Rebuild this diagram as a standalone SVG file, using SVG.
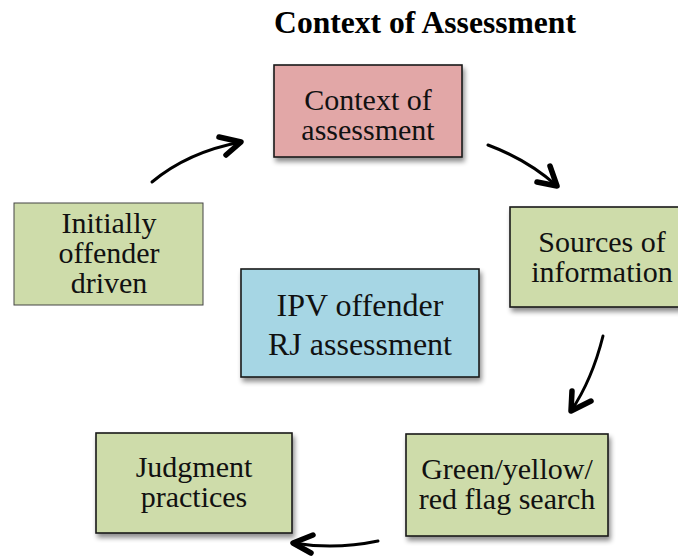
<svg xmlns="http://www.w3.org/2000/svg" width="678" height="556" viewBox="0 0 678 556">
  <style>
    .box { stroke: #1a1a1a; stroke-width: 1.6; }
    .lbl { font-size: 30px; fill: #111; text-anchor: middle; }
    .big { font-size: 32px; }
    .title { font-size: 31.6px; font-weight: bold; fill: #000; text-anchor: middle; }
    .arc { fill: none; stroke: #000; stroke-width: 3; stroke-linecap: round; }
    .head { fill: none; stroke: #000; stroke-width: 5.5; stroke-linecap: round; stroke-linejoin: round; }
  </style>
  <defs>
    <filter id="shadow" x="-10%" y="-10%" width="125%" height="130%">
      <feGaussianBlur in="SourceAlpha" stdDeviation="2.5"/>
      <feOffset dx="2" dy="4" result="b"/>
      <feComponentTransfer><feFuncA type="linear" slope="0.45"/></feComponentTransfer>
      <feMerge><feMergeNode/><feMergeNode in="SourceGraphic"/></feMerge>
    </filter>
  </defs>

  <rect width="678" height="556" fill="#fff"/>

  <g font-family="Liberation Serif, Times New Roman, serif">
    <text class="title" x="425" y="33">Context of Assessment</text>

    <g id="context">
      <rect class="box" x="274" y="65" width="188" height="92" fill="#E2A7A7" filter="url(#shadow)"/>
      <text class="lbl" x="368" y="110">Context of</text>
      <text class="lbl" x="368" y="140">assessment</text>
    </g>

    <g id="sources">
      <rect class="box" x="510" y="207" width="180" height="100" fill="#CEDCAA" filter="url(#shadow)"/>
      <text class="lbl" x="602" y="252">Sources of</text>
      <text class="lbl" x="602" y="282">information</text>
    </g>

    <g id="initially">
      <rect x="14" y="203" width="189" height="102" fill="#CEDCAA" stroke="#444" stroke-width="1"/>
      <text class="lbl" x="109" y="233">Initially</text>
      <text class="lbl" x="109" y="263">offender</text>
      <text class="lbl" x="109" y="293">driven</text>
    </g>

    <g id="ipv">
      <rect class="box" x="241" y="269" width="238" height="108" fill="#A6D6E4" filter="url(#shadow)"/>
      <text class="lbl big" x="360" y="316">IPV offender</text>
      <text class="lbl big" x="360" y="355">RJ assessment</text>
    </g>

    <g id="judgment">
      <rect class="box" x="96" y="433" width="196" height="100" fill="#CEDCAA" filter="url(#shadow)"/>
      <text class="lbl" x="194" y="477">Judgment</text>
      <text class="lbl" x="194" y="507">practices</text>
    </g>

    <g id="flags">
      <rect class="box" x="406" y="434" width="202" height="102" fill="#CEDCAA" filter="url(#shadow)"/>
      <text class="lbl" x="507" y="479">Green/yellow/</text>
      <text class="lbl" x="507" y="509">red flag search</text>
    </g>
  </g>

  <g id="connectors">
    <path class="arc" d="M152,182 Q188,152 241,142"/>
    <path class="head" d="M219,137 L241,142 L226,155"/>

    <path class="arc" d="M488,145 Q528,160 557,186"/>
    <path class="head" d="M550,166 L557,186 L537,182"/>

    <path class="arc" d="M603,336 Q592,380 571,411"/>
    <path class="head" d="M572,391 L571,411 L591,401"/>

    <path class="arc" d="M378,541 Q335,550 293,543"/>
    <path class="head" d="M313,535 L293,543 L311,553"/>
  </g>
</svg>
